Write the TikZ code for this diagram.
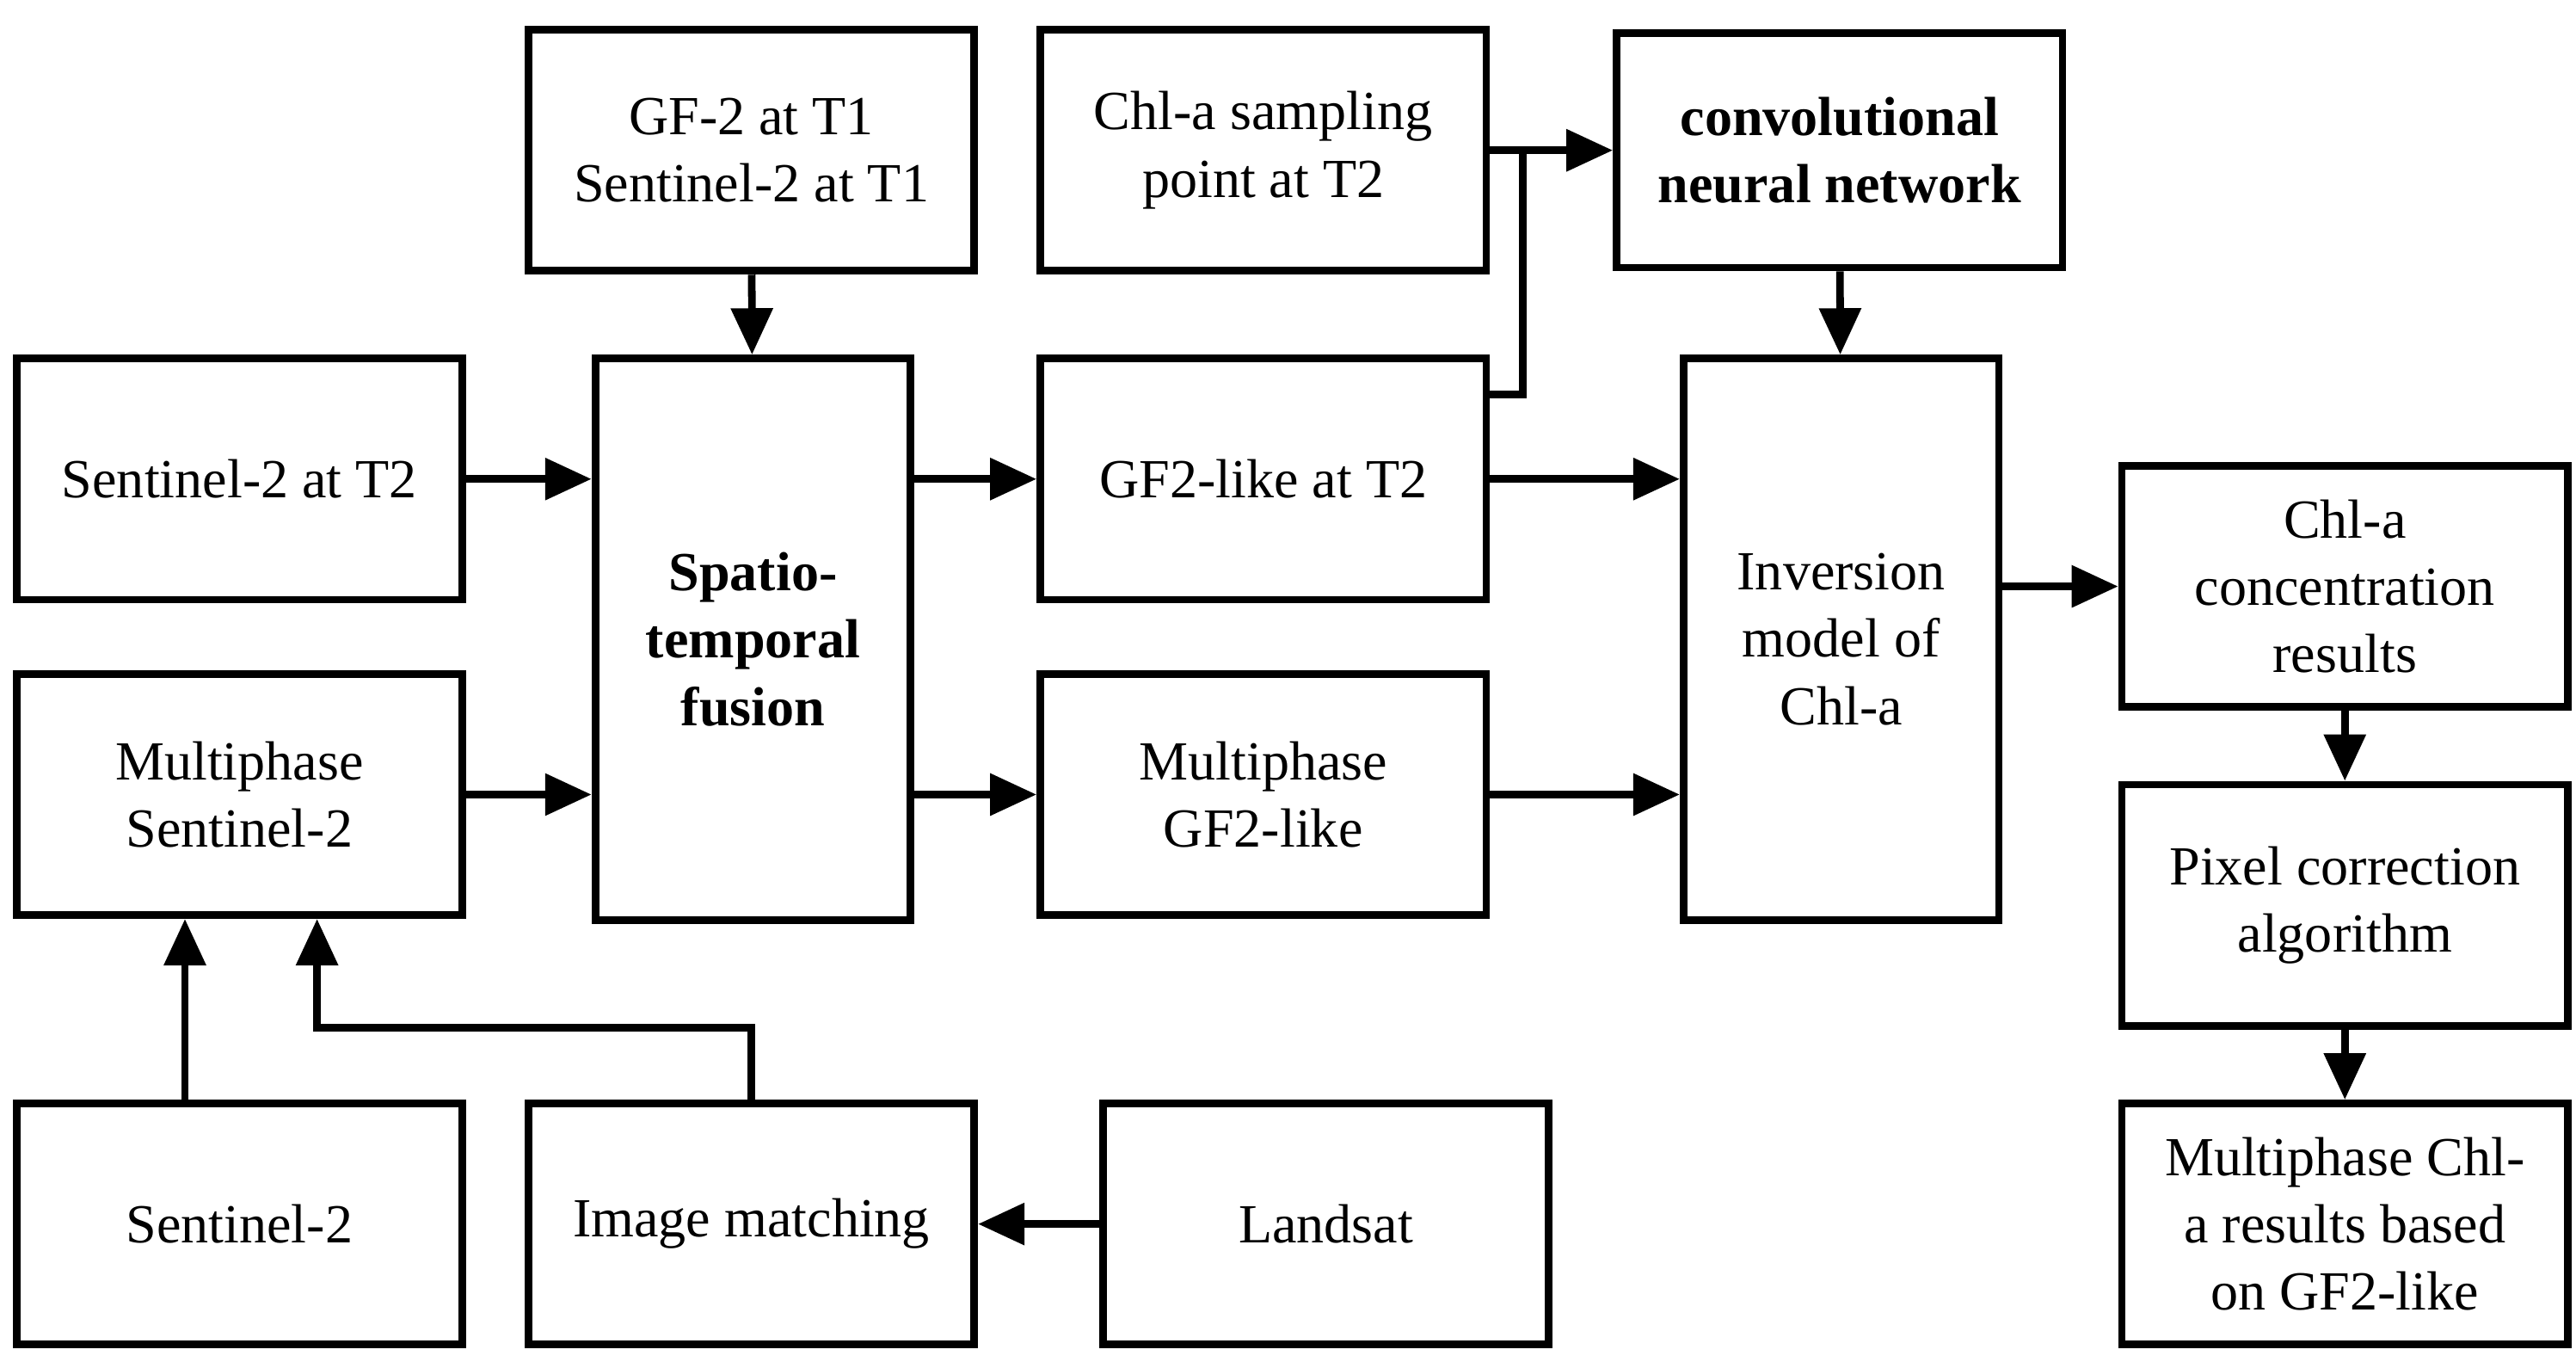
\documentclass[tikz,border=0pt]{standalone}
\usepackage{fontspec}
\setmainfont{Liberation Serif}
\usetikzlibrary{arrows.meta}
\tikzset{
    flow-box/.style = {draw=black, fill=white, line width=1.3pt, rectangle, align=center, inner sep=2pt, minimum width=2.7cm, minimum height=1.46cm, font=\fontsize{9.5}{11.6}\selectfont},
    tall-box/.style = {flow-box, minimum width=1.91cm, minimum height=3.4cm},
    flow-arrow/.style = {line width=1.3pt, -{Triangle[length=8pt,width=7pt]}},
}
\begin{document}
\begin{tikzpicture}
\useasboundingbox (0,0) rectangle (15.6,-8.28);
\node[flow-box] (gft1) at (4.55,-0.91) {GF-2 at T1\\Sentinel-2 at T1};
\node[flow-box] (chlpt) at (7.65,-0.91) {Chl-a sampling\\point at T2};
\node[flow-box, minimum height=1.42cm] (cnn) at (11.14,-0.91) {\textbf{convolutional}\\\textbf{neural network}};
\node[flow-box] (s2t2) at (1.45,-2.90) {Sentinel-2 at T2};
\node[tall-box] (fusion) at (4.56,-3.87) {\textbf{Spatio-}\\\textbf{temporal}\\\textbf{fusion}};
\node[flow-box] (gflike) at (7.65,-2.90) {GF2-like at T2};
\node[tall-box] (inv) at (11.15,-3.87) {Inversion\\model of\\Chl-a};
\node[flow-box] (conc) at (14.20,-3.55) {Chl-a\\concentration\\results};
\node[flow-box] (ms2) at (1.45,-4.81) {Multiphase\\Sentinel-2};
\node[flow-box] (mgf) at (7.65,-4.81) {Multiphase\\GF2-like};
\node[flow-box] (pixel) at (14.20,-5.48) {Pixel correction\\algorithm};
\node[flow-box] (s2) at (1.45,-7.41) {Sentinel-2};
\node[flow-box] (match) at (4.55,-7.41) {Image matching};
\node[flow-box] (landsat) at (8.03,-7.41) {Landsat};
\node[flow-box] (result) at (14.20,-7.41) {Multiphase Chl-\\a results based\\on GF2-like};

\draw[flow-arrow] (gft1) -- (fusion);
\draw[flow-arrow] (s2t2.east) -- (s2t2.east -| fusion.west);
\draw[flow-arrow] (ms2.east) -- (ms2.east -| fusion.west);
\draw[flow-arrow] (gflike.west -| fusion.east) -- (gflike.west);
\draw[flow-arrow] (mgf.west -| fusion.east) -- (mgf.west);
\draw[flow-arrow] (gflike.east) -- (gflike.east -| inv.west);
\draw[flow-arrow] (mgf.east) -- (mgf.east -| inv.west);
\draw[flow-arrow] (chlpt.east) -- (cnn.west);
\coordinate (join) at (9.22,-0.91);
\draw[line width=1.3pt] ([yshift=-0.24cm]gflike.north east) -| (join);
\draw[flow-arrow] (cnn) -- (inv);
\draw[flow-arrow] ([yshift=0.32cm]inv.east) -- ([yshift=0.32cm]inv.east -| conc.west);
\draw[flow-arrow] (conc) -- (pixel);
\draw[flow-arrow] (pixel) -- (result);
\draw[flow-arrow] (landsat) -- (match);
\draw[flow-arrow] ([xshift=-0.33cm]s2.north) -- ([xshift=-0.33cm]ms2.south);
\coordinate (bend) at (1.92,-6.22);
\draw[flow-arrow] (match.north) |- (bend) -- (bend |- ms2.south);
\end{tikzpicture}
\end{document}
